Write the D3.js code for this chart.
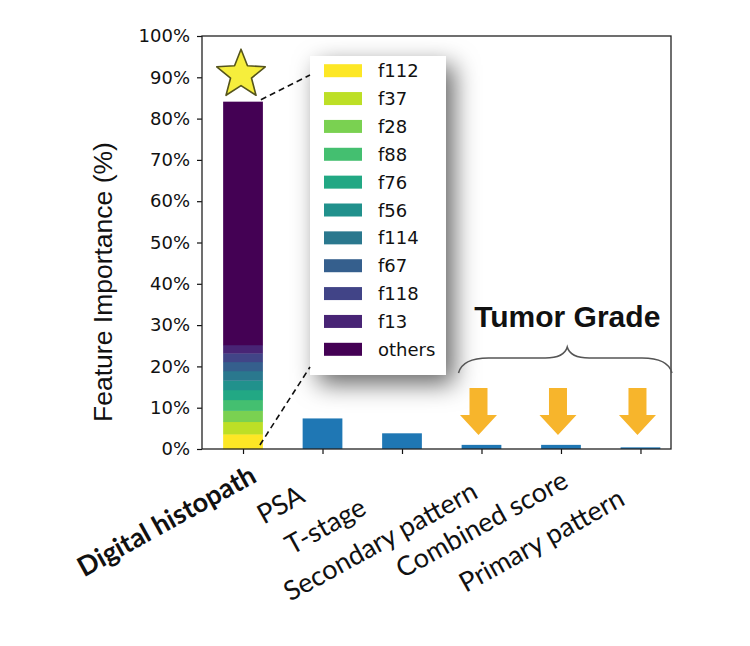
<!DOCTYPE html>
<html>
<head>
<meta charset="utf-8">
<script src="https://cdn.jsdelivr.net/npm/d3@7"></script>
<style>
  html, body { margin: 0; padding: 0; background: #ffffff; }
  svg { display: block; }
</style>
</head>
<body>
<div id="chart"></div>
<script>
// ---------------- data ----------------
const categories = ["Digital histopath", "PSA", "T-stage", "Secondary pattern", "Combined score", "Primary pattern"];
const importance = [84.1, 7.4, 3.8, 1.0, 1.0, 0.4];
const featureNames = ["f112", "f37", "f28", "f88", "f76", "f56", "f114", "f67", "f118", "f13", "others"];
const featureValues = [3.6, 3.0, 2.7, 2.6, 2.4, 2.3, 2.3, 2.2, 2.1, 2.0, 58.9];
const yTicks = [0, 10, 20, 30, 40, 50, 60, 70, 80, 90, 100];
const tumorGradeIdx = [3, 4, 5];
const groupTitle = "Tumor Grade";
const yTitle = "Feature Importance (%)";

// ---------------- layout ----------------
const W = 750, H = 646;
const plot = { left: 202, right: 671, top: 36, bottom: 449 };
const labelEnds = [[15, 32], [-16, 52], [-34, 64], [-2, 48], [9, 37], [-14, 55]]; // label end offsets from tick
const labelAngle = -29;

const svg = d3.select("#chart").append("svg").attr("width", W).attr("height", H);

const x = d3.scaleLinear().domain([-0.516, 5.384]).range([plot.left, plot.right]);
const y = d3.scaleLinear().domain([0, 100]).range([plot.bottom, plot.top]);
const bw = (x(1) - x(0)) * 0.5;

const featColor = i => d3.interpolateViridis(1 - i / (featureNames.length - 1));

// defs: shadow
const defs = svg.append("defs");
const f = defs.append("filter").attr("id", "shadow")
  .attr("x", "-30%").attr("y", "-20%").attr("width", "170%").attr("height", "150%");
f.append("feDropShadow").attr("dx", 8).attr("dy", 9).attr("stdDeviation", 12)
  .attr("flood-color", "#000").attr("flood-opacity", 0.6);

// bars (simple)
svg.append("g").selectAll("rect.simple")
  .data(importance.map((v, i) => ({ v, i })).filter(d => d.i > 0))
  .join("rect")
  .attr("x", d => x(d.i) - bw / 2)
  .attr("width", bw)
  .attr("y", d => y(d.v))
  .attr("height", d => y(0) - y(d.v))
  .attr("fill", "#1f77b4");

// stacked bar
let cum = 0;
const stack = featureValues.map((v, i) => { const s = { y0: cum, y1: cum + v, i }; cum += v; return s; });
svg.append("g").selectAll("rect.stack")
  .data(stack)
  .join("rect")
  .attr("x", x(0) - bw / 2)
  .attr("width", bw)
  .attr("y", d => y(d.y1))
  .attr("height", d => y(d.y0) - y(d.y1) + 0.3)
  .attr("fill", d => featColor(d.i));

// axes
const yAxis = d3.axisLeft(y).tickValues(yTicks).tickFormat(d => d + "%").tickSize(5).tickPadding(7);
const gy = svg.append("g").attr("transform", `translate(${plot.left},0)`).call(yAxis);
gy.select(".domain").remove();
gy.selectAll("text").attr("font-family", "DejaVu Sans").attr("font-size", 18).attr("fill", "#111");
gy.selectAll("line").attr("stroke", "#111").attr("stroke-width", 1.2);

const xAxis = d3.axisBottom(x).tickValues(d3.range(categories.length)).tickFormat("").tickSize(5);
const gx = svg.append("g").attr("transform", `translate(0,${plot.bottom})`).call(xAxis);
gx.select(".domain").remove();
gx.selectAll("line").attr("stroke", "#111").attr("stroke-width", 1.2);

// frame
svg.append("rect")
  .attr("x", plot.left).attr("y", plot.top)
  .attr("width", plot.right - plot.left).attr("height", plot.bottom - plot.top)
  .attr("fill", "none").attr("stroke", "#222").attr("stroke-width", 1.3);

// y title
svg.append("text")
  .attr("transform", `translate(112,${282}) rotate(-90)`)
  .attr("text-anchor", "middle")
  .attr("font-family", "Liberation Sans, Arial, sans-serif")
  .attr("font-size", 26.5)
  .attr("fill", "#111")
  .text(yTitle);

// x labels
svg.append("g").selectAll("text")
  .data(categories)
  .join("text")
  .attr("transform", (d, i) => `translate(${x(i) + labelEnds[i][0]},${plot.bottom + labelEnds[i][1]}) rotate(${labelAngle})`)
  .attr("text-anchor", "end")
  .attr("font-family", "Lato, 'Open Sans', sans-serif")
  .attr("font-size", 27)
  .attr("font-weight", (d, i) => i === 0 ? 700 : 400)
  .attr("fill", "#111")
  .text(d => d);

// star above highlighted bar
const starR = 25.5, starr = 11;
const starPts = d3.range(10).map(k => {
  const a = -Math.PI / 2 + k * Math.PI / 5;
  const r = k % 2 === 0 ? starR : starr;
  return [r * Math.cos(a), r * Math.sin(a)];
});
svg.append("path")
  .attr("transform", `translate(${x(0) - 2},${y(importance[0]) - 27})`)
  .attr("d", d3.line()(starPts) + "Z")
  .attr("fill", "#f6ee3c")
  .attr("stroke", "#55541c")
  .attr("stroke-width", 1.6)
  .attr("stroke-linejoin", "round");

// legend
const lg = { x: 310, y: 56, w: 136, h: 319, row: 27.86 };
const legend = svg.append("g");
legend.append("rect")
  .attr("x", lg.x).attr("y", lg.y).attr("width", lg.w).attr("height", lg.h)
  .attr("fill", "#fff").attr("filter", "url(#shadow)");
const rows = legend.selectAll("g.row")
  .data(featureNames)
  .join("g")
  .attr("transform", (d, i) => `translate(${lg.x},${lg.y + 14.7 + i * lg.row})`);
rows.append("rect").attr("x", 14).attr("y", -6.5).attr("width", 38).attr("height", 13)
  .attr("fill", (d, i) => featColor(i));
rows.append("text").attr("x", 68).attr("y", 6.5)
  .attr("font-family", "DejaVu Sans").attr("font-size", 18).attr("fill", "#111")
  .text(d => d);

// dashed connector lines
const dash = svg.append("g").attr("stroke", "#111").attr("stroke-width", 1.6).attr("stroke-dasharray", "6,4").attr("fill", "none");
dash.append("line")
  .attr("x1", x(0) + bw / 2 - 2).attr("y1", y(importance[0]) - 2)
  .attr("x2", lg.x).attr("y2", lg.y + 19);
dash.append("line")
  .attr("x1", x(0) + bw / 2 - 3).attr("y1", y(0) - 4)
  .attr("x2", lg.x).attr("y2", lg.h + lg.y - 8);

// arrows for tumor grade
const arrowColor = "#f7b52c";
const arrowTip = y(0) - 14;
svg.append("g").selectAll("path")
  .data(tumorGradeIdx)
  .join("path")
  .attr("transform", d => `translate(${x(d) - 3},${arrowTip})`)
  .attr("d", "M0,0 L-18.5,-20 L-9,-20 L-9,-47 L9,-47 L9,-20 L18.5,-20 Z")
  .attr("fill", arrowColor);

// brace
const bx0 = x(tumorGradeIdx[0]) - 23, bx1 = plot.right + 1;
const bmid = (bx0 + bx1) / 2 + 2;
const by = 358, byEnd = 373, byTip = 347;
svg.append("path")
  .attr("d", `M${bx0},${byEnd} Q${bx0 + 4},${by} ${bx0 + 30},${by} L${bmid - 22},${by} Q${bmid - 3},${by} ${bmid},${byTip} Q${bmid + 3},${by} ${bmid + 22},${by} L${bx1 - 30},${by} Q${bx1 - 4},${by} ${bx1},${byEnd}`)
  .attr("fill", "none").attr("stroke", "#555").attr("stroke-width", 1.5);

svg.append("text")
  .attr("x", bmid).attr("y", 327)
  .attr("text-anchor", "middle")
  .attr("font-family", "Liberation Sans, Arial, sans-serif")
  .attr("font-weight", 700)
  .attr("font-size", 30)
  .attr("fill", "#111")
  .text(groupTitle);
</script>
</body>
</html>
